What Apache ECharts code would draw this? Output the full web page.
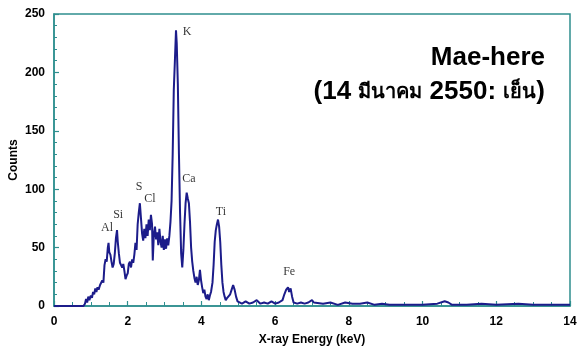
<!DOCTYPE html>
<html>
<head>
<meta charset="utf-8">
<script src="https://cdn.jsdelivr.net/npm/echarts@6/dist/echarts.min.js"></script>
<style>html,body{margin:0;padding:0;background:#fff;}#c{width:582px;height:354px;}</style>
</head>
<body>
<div id="c"></div>
<script>
// Spectrum: energy (keV) and counts
const energy = [0.00,0.80,0.84,0.87,0.90,0.93,0.96,1.00,1.03,1.06,1.09,1.12,1.15,1.18,1.21,1.25,1.28,1.31,1.34,1.37,1.40,1.43,1.46,1.48,1.50,1.53,1.56,1.59,1.62,1.65,1.68,1.71,1.73,1.76,1.79,1.82,1.85,1.88,1.91,1.94,1.97,2.00,2.03,2.06,2.09,2.12,2.15,2.18,2.21,2.24,2.27,2.30,2.33,2.36,2.39,2.42,2.45,2.48,2.51,2.54,2.57,2.60,2.63,2.66,2.68,2.71,2.74,2.77,2.80,2.83,2.86,2.89,2.92,2.95,2.98,3.01,3.04,3.07,3.10,3.13,3.16,3.19,3.22,3.25,3.28,3.31,3.33,3.36,3.39,3.42,3.45,3.48,3.51,3.54,3.57,3.60,3.63,3.66,3.69,3.72,3.75,3.78,3.81,3.84,3.87,3.90,3.93,3.96,3.99,4.02,4.05,4.08,4.11,4.14,4.17,4.20,4.23,4.26,4.30,4.33,4.36,4.39,4.42,4.45,4.48,4.51,4.54,4.57,4.60,4.63,4.66,4.70,4.74,4.78,4.82,4.86,4.90,4.94,4.98,5.02,5.10,5.20,5.30,5.40,5.50,5.60,5.70,5.80,5.90,6.00,6.10,6.20,6.25,6.30,6.35,6.38,6.42,6.46,6.50,6.60,6.70,6.80,6.90,7.00,7.05,7.10,7.30,7.50,7.70,7.90,8.10,8.30,8.50,8.70,8.90,9.10,9.50,10.00,10.40,10.60,10.70,10.80,11.20,11.60,12.00,12.60,13.00,13.50,14.00];
const counts = [0,0,2,6,3,8,5,9,7,12,10,15,12,16,14,18,17,22,20,35,40,38,50,54,46,44,38,33,36,45,58,65,55,45,37,35,33,36,30,23,26,28,36,38,33,40,37,44,54,48,70,80,88,75,62,56,66,58,70,60,74,65,78,70,39,62,68,57,63,52,66,55,50,60,48,57,49,58,52,60,72,90,130,185,210,236,225,190,130,80,45,33,48,70,88,97,92,88,72,50,38,30,24,20,25,18,22,31,22,16,11,14,8,6,10,5,9,12,20,35,55,65,70,74,68,55,35,20,12,8,5,7,6,10,14,18,14,8,4,3,2,4,2,3,5,2,3,2,4,2,3,5,10,14,16,12,15,8,3,2,3,2,3,5,3,2,2,3,1,3,2,2,3,1,2,1,1,1,2,4,3,1,1,2,1,2,1,1,1];

// Peak annotations (element, keV, count position of label)
const peakNames = ['Al','Si','S','Cl','K','Ca','Ti','Fe'];
const peakEnergy = [1.44,1.74,2.31,2.60,3.61,3.66,4.53,6.38];
const peakLabelCount = [67,78,102,92,235,109,81,29];

const xTicks = [0,2,4,6,8,10,12,14];
const yTicks = [0,50,100,150,200,250];

const titleLine1 = 'Mae-here';
const titleLine2Parts = ['(14 ', 'มีนาคม', ' 2550: ', 'เย็น', ')'];

const chart = echarts.init(document.getElementById('c'));
const teal = '#2f8f8f';
const axisFont = {fontFamily:'Liberation Sans, Arial, sans-serif', fontWeight:'bold', fontSize:12, color:'#000'};
const titleFont = {fontFamily:'Liberation Sans, Arial, sans-serif', fontWeight:'bold', fontSize:26, color:'#000'};
const thaiFont = {fontFamily:'Liberation Sans, Arial, sans-serif', fontWeight:'bold', fontSize:20, color:'#000'};

const line2 = titleLine2Parts.map((p,i)=> (i%2===1 ? '{t|' : '{a|') + p + '}').join('');

chart.setOption({
  animation:false,
  backgroundColor:'#fff',
  title:[
    {text: titleLine1, right: 32, top: 40, textStyle: titleFont},
    {text: line2, right: 32, top: 74, textStyle: Object.assign({}, titleFont, {rich:{a:titleFont, t:thaiFont}})}
  ],
  grid:{left:54, right:12, top:14, bottom:48, show:true, borderColor:teal, borderWidth:1.5, backgroundColor:'#fff', containLabel:false, outerBoundsMode:'none'},
  xAxis:{
    type:'value', min:xTicks[0], max:xTicks[xTicks.length-1], interval:2,
    name:'X-ray Energy (keV)', nameLocation:'middle', nameGap:28, nameMoveOverlap:false,
    nameTextStyle:axisFont,
    axisLine:{lineStyle:{color:teal, width:1.5}},
    axisTick:{inside:true, length:5, lineStyle:{color:teal, width:1.2}},
    minorTick:{show:true, splitNumber:4, length:4, lineStyle:{color:teal, width:1}},
    axisLabel:Object.assign({}, axisFont, {margin:10}),
    splitLine:{show:false}
  },
  yAxis:{
    type:'value', min:yTicks[0], max:yTicks[yTicks.length-1], interval:50,
    name:'Counts', nameLocation:'middle', nameGap:34, nameRotate:90, nameMoveOverlap:false,
    nameTextStyle:axisFont,
    axisLine:{show:true, lineStyle:{color:teal, width:1.5}},
    axisTick:{show:true, inside:true, length:5, lineStyle:{color:teal, width:1.2}},
    minorTick:{show:true, splitNumber:5, length:3, lineStyle:{color:teal, width:1}},
    axisLabel:Object.assign({}, axisFont, {margin:9}),
    splitLine:{show:false}
  },
  series:[
    {
      type:'line',
      data: energy.map((e,i)=>[e, counts[i]]),
      showSymbol:false, symbol:'none',
      lineStyle:{color:'#1c1c8a', width:2},
      z:3
    },
    {
      type:'scatter',
      data: peakNames.map((n,i)=>({value:[peakEnergy[i], peakLabelCount[i]], name:n})),
      symbolSize:0,
      silent:true,
      label:{show:true, position:'inside', formatter:p=>p.name, fontFamily:'Liberation Serif, Times New Roman, serif', fontSize:12, color:'#000'},
      z:4
    }
  ]
});
</script>
</body>
</html>
